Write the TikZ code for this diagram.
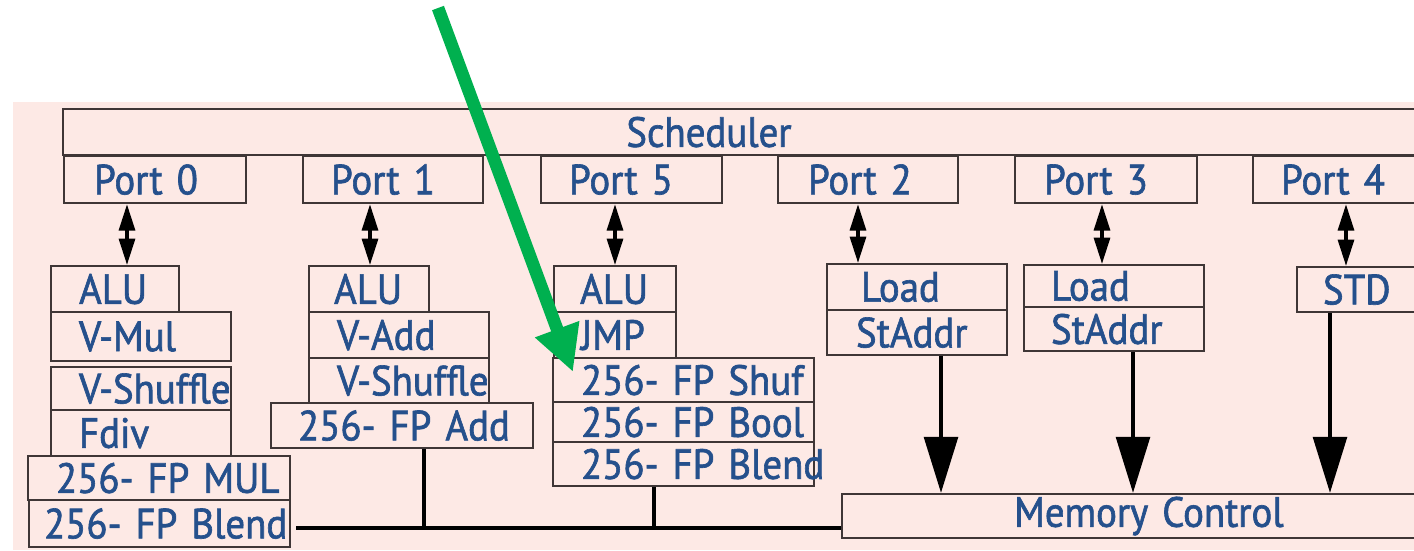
\documentclass[tikz,border=0pt]{standalone}
\usepackage{fontspec}
\setmainfont{PT Sans}
\newfontfamily\unitfont{PT Sans}[FakeBold=1.5, FakeStretch=0.92]
\usepackage{tikz}
\usetikzlibrary{arrows.meta, calc}

\definecolor{bgpink}{HTML}{FDE9E5}
\definecolor{boxline}{HTML}{3F3636}
\definecolor{txtblue}{HTML}{25508C}
\definecolor{ptgreen}{HTML}{00B04F}

\begin{document}
\begin{tikzpicture}[
  x=0.01cm, y=-0.01cm,
  unit/.style={rectangle, draw=boxline, line width=0.6pt, anchor=north west, inner sep=0pt, align=left, text=txtblue, font=\unitfont\fontsize{12}{13}\selectfont},
  dbl/.style={line width=1pt, <->, >={Triangle[length=7.5pt,width=4.5pt]}},
  memarrow/.style={line width=1.4pt, -{Triangle[length=16pt,width=9.5pt]}},
  bus/.style={line width=1.4pt},
  pointer/.style={draw=ptgreen, line width=3.6pt, -{Triangle[length=13pt,width=12.5pt]}}
]
\useasboundingbox (0,0) rectangle (1414,550);
\clip (0,0) rectangle (1414,550);
\fill[bgpink] (13,102) rectangle (1414,550);

% scheduler and ports
\node[unit, minimum height=0.46cm, text width=14cm] (sched) at (62,108) {\mbox{\hspace*{5.63cm}Scheduler}};
\node[unit, minimum height=0.47cm, text width=1.82cm] (port0) at (63,155) {\mbox{\hspace*{0.30cm}Port 0}};
\node[unit, minimum height=0.47cm, text width=1.80cm] (port1) at (302,155) {\mbox{\hspace*{0.28cm}Port 1}};
\node[unit, minimum height=0.47cm, text width=1.81cm] (port5) at (540,155) {\mbox{\hspace*{0.28cm}Port 5}};
\node[unit, minimum height=0.47cm, text width=1.80cm] (port2) at (777,155) {\mbox{\hspace*{0.30cm}Port 2}};
\node[unit, minimum height=0.47cm, text width=1.82cm] (port3) at (1014,155) {\mbox{\hspace*{0.29cm}Port 3}};
\node[unit, minimum height=0.47cm, text width=2.00cm] (port4) at (1252,155) {\mbox{\hspace*{0.28cm}Port 4}};

% port 0 units
\node[unit, minimum height=0.46cm, text width=1.28cm] (alu0) at (50,265) {\mbox{\hspace*{0.28cm}ALU}};
\node[unit, minimum height=0.49cm, text width=1.80cm] (vmul0) at (50,311) {\mbox{\hspace*{0.28cm}V-Mul}};
\node[unit, minimum height=0.43cm, text width=1.80cm] (vshuf0) at (50,366) {\mbox{\hspace*{0.28cm}V-Shuffle}};
\node[unit, minimum height=0.46cm, text width=1.80cm] (fdiv0) at (50,409) {\mbox{\hspace*{0.28cm}Fdiv}};
\node[unit, minimum height=0.44cm, text width=2.62cm] (mul0) at (27,455) {\mbox{\hspace*{0.28cm}256- FP MUL}};
\node[unit, minimum height=0.47cm, text width=2.61cm] (blend0) at (28,499) {\mbox{\hspace*{0.15cm}256- FP Blend}};

% port 1 units
\node[unit, minimum height=0.46cm, text width=1.20cm] (alu1) at (308,265) {\mbox{\hspace*{0.25cm}ALU}};
\node[unit, minimum height=0.46cm, text width=1.80cm] (vadd1) at (308,311) {\mbox{\hspace*{0.28cm}V-Add}};
\node[unit, minimum height=0.45cm, text width=1.80cm] (vshuf1) at (308,357) {\mbox{\hspace*{0.28cm}V-Shuffle}};
\node[unit, minimum height=0.45cm, text width=2.62cm] (add1) at (270,402) {\mbox{\hspace*{0.27cm}256- FP Add}};

% port 5 units
\node[unit, minimum height=0.46cm, text width=1.22cm] (alu5) at (553,265) {\mbox{\hspace*{0.26cm}ALU}};
\node[unit, minimum height=0.46cm, text width=1.22cm] (jmp5) at (553,311) {\mbox{\hspace*{0.27cm}JMP}};
\node[unit, minimum height=0.44cm, text width=2.61cm] (shuf5) at (552,357) {\mbox{\hspace*{0.28cm}256- FP Shuf}};
\node[unit, minimum height=0.40cm, text width=2.61cm] (bool5) at (552,401) {\mbox{\hspace*{0.28cm}256- FP Bool}};
\node[unit, minimum height=0.44cm, text width=2.61cm] (blend5) at (552,441) {\mbox{\hspace*{0.28cm}256- FP Blend}};

% load / store units
\node[unit, minimum height=0.46cm, text width=1.80cm] (load2) at (826,263) {\mbox{\hspace*{0.34cm}Load}};
\node[unit, minimum height=0.45cm, text width=1.80cm] (staddr2) at (826,309) {\mbox{\hspace*{0.29cm}StAddr}};
\node[unit, minimum height=0.42cm, text width=1.80cm] (load3) at (1023,264) {\mbox{\hspace*{0.27cm}Load}};
\node[unit, minimum height=0.44cm, text width=1.80cm] (staddr3) at (1023,306) {\mbox{\hspace*{0.27cm}StAddr}};
\node[unit, minimum height=0.45cm, text width=1.50cm] (std4) at (1296,266) {\mbox{\hspace*{0.26cm}STD}};

\node[unit, minimum height=0.44cm, text width=6.20cm] (memctl) at (841,493) {\mbox{\hspace*{1.72cm}Memory Control}};

% port to unit links
\draw[dbl] (127,0 |- port0.south) -- (127,0 |- alu0.north);
\draw[dbl] (370,0 |- port1.south) -- (370,0 |- alu1.north);
\draw[dbl] (615,0 |- port5.south) -- (615,0 |- alu5.north);
\draw[dbl] (858,0 |- port2.south) -- (858,0 |- load2.north);
\draw[dbl] (1102,0 |- port3.south) -- (1102,0 |- load3.north);
\draw[dbl] (1346,0 |- port4.south) -- (1346,0 |- std4.north);

% result bus
\coordinate (busL) at (296,528);
\draw[bus] (busL) -- (busL -| memctl.west);
\draw[bus] (424,0 |- add1.south) -- (424,0 |- busL);
\draw[bus] (654,0 |- blend5.south) -- (654,0 |- busL);

% to memory control
\draw[memarrow] (941,0 |- staddr2.south) -- (941,0 |- memctl.north);
\draw[memarrow] (1133,0 |- staddr3.south) -- (1133,0 |- memctl.north);
\draw[memarrow] (1330,0 |- std4.south) -- (1330,0 |- memctl.north);

% green pointer
\coordinate (ptstart) at (438,8);
\coordinate (pttip) at (573,372);
\draw[pointer] (ptstart) -- (pttip);

\end{tikzpicture}
\end{document}
